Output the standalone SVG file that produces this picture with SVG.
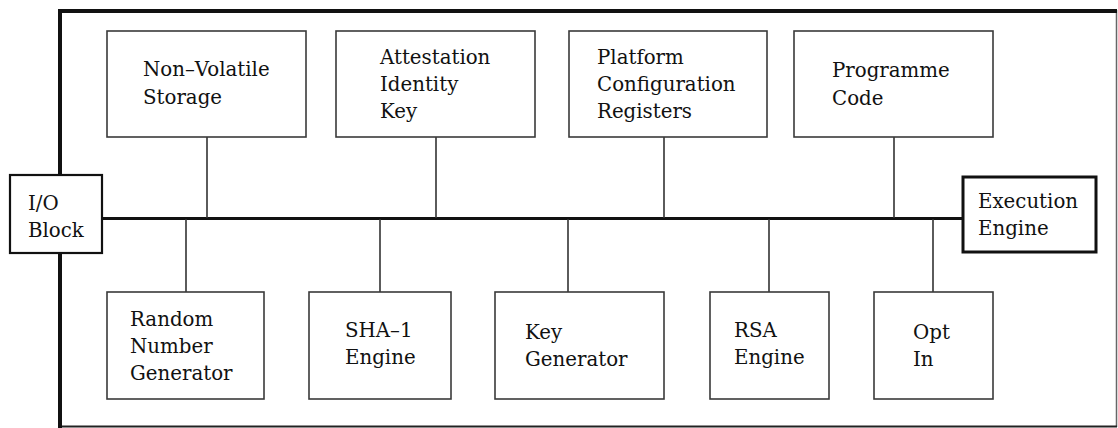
<svg xmlns="http://www.w3.org/2000/svg" width="1118" height="428" viewBox="0 0 1118 428">
  <style>
    .box { fill: #fff; stroke: #3a3a3a; stroke-width: 1.6; }
    .port { fill: #fff; stroke: #111; stroke-width: 2.2; }
    .engine { fill: #fff; stroke: #111; stroke-width: 3; }
    .wire { stroke: #333; stroke-width: 1.6; fill: none; }
    .bus { stroke: #111; stroke-width: 3; fill: none; }
    text { font-family: "DejaVu Serif", "Liberation Serif", serif; font-size: 19.8px; fill: #111; }
  </style>
  <rect width="1118" height="428" fill="#fff"/>

  <!-- chip enclosure: heavy top and left, light right and bottom -->
  <g id="enclosure">
    <line x1="1116.5" y1="10" x2="1116.5" y2="427" stroke="#666" stroke-width="1.5"/>
    <line x1="58" y1="426.5" x2="1117" y2="426.5" stroke="#222" stroke-width="2"/>
    <line x1="58" y1="11" x2="1117" y2="11" stroke="#111" stroke-width="4"/>
    <line x1="60" y1="9" x2="60" y2="428" stroke="#111" stroke-width="4"/>
  </g>

  <!-- internal bus and stubs to each block -->
  <g id="connectors">
    <line class="bus" x1="102" y1="218.5" x2="963" y2="218.5"/>
    <line class="wire" x1="207" y1="137" x2="207" y2="218"/>
    <line class="wire" x1="436" y1="137" x2="436" y2="218"/>
    <line class="wire" x1="664" y1="137" x2="664" y2="218"/>
    <line class="wire" x1="894" y1="137" x2="894" y2="218"/>
    <line class="wire" x1="186" y1="219" x2="186" y2="292"/>
    <line class="wire" x1="380" y1="219" x2="380" y2="292"/>
    <line class="wire" x1="568" y1="219" x2="568" y2="292"/>
    <line class="wire" x1="769" y1="219" x2="769" y2="292"/>
    <line class="wire" x1="933" y1="219" x2="933" y2="292"/>
  </g>

  <g id="io-block">
    <rect class="port" x="10" y="175" width="92" height="78"/>
    <text x="28" y="210">I/O</text>
    <text x="28" y="237">Block</text>
  </g>

  <g id="execution-engine">
    <rect class="engine" x="963" y="177" width="133" height="75"/>
    <text x="978" y="208">Execution</text>
    <text x="978" y="235">Engine</text>
  </g>

  <g id="non-volatile-storage">
    <rect class="box" x="107" y="31" width="199" height="106"/>
    <text x="143" y="76">Non–Volatile</text>
    <text x="143" y="104">Storage</text>
  </g>

  <g id="attestation-identity-key">
    <rect class="box" x="336" y="31" width="199" height="106"/>
    <text x="380" y="64">Attestation</text>
    <text x="380" y="91">Identity</text>
    <text x="380" y="118">Key</text>
  </g>

  <g id="platform-configuration-registers">
    <rect class="box" x="569" y="31" width="198" height="106"/>
    <text x="597" y="64">Platform</text>
    <text x="597" y="91">Configuration</text>
    <text x="597" y="118">Registers</text>
  </g>

  <g id="programme-code">
    <rect class="box" x="794" y="31" width="199" height="106"/>
    <text x="832" y="77">Programme</text>
    <text x="832" y="105">Code</text>
  </g>

  <g id="random-number-generator">
    <rect class="box" x="107" y="292" width="157" height="107"/>
    <text x="130" y="326">Random</text>
    <text x="130" y="353">Number</text>
    <text x="130" y="380">Generator</text>
  </g>

  <g id="sha1-engine">
    <rect class="box" x="309" y="292" width="142" height="107"/>
    <text x="345" y="337">SHA–1</text>
    <text x="345" y="364">Engine</text>
  </g>

  <g id="key-generator">
    <rect class="box" x="495" y="292" width="169" height="107"/>
    <text x="525" y="339">Key</text>
    <text x="525" y="366">Generator</text>
  </g>

  <g id="rsa-engine">
    <rect class="box" x="710" y="292" width="119" height="107"/>
    <text x="734" y="337">RSA</text>
    <text x="734" y="364">Engine</text>
  </g>

  <g id="opt-in">
    <rect class="box" x="874" y="292" width="119" height="107"/>
    <text x="913" y="339">Opt</text>
    <text x="913" y="366">In</text>
  </g>
</svg>
